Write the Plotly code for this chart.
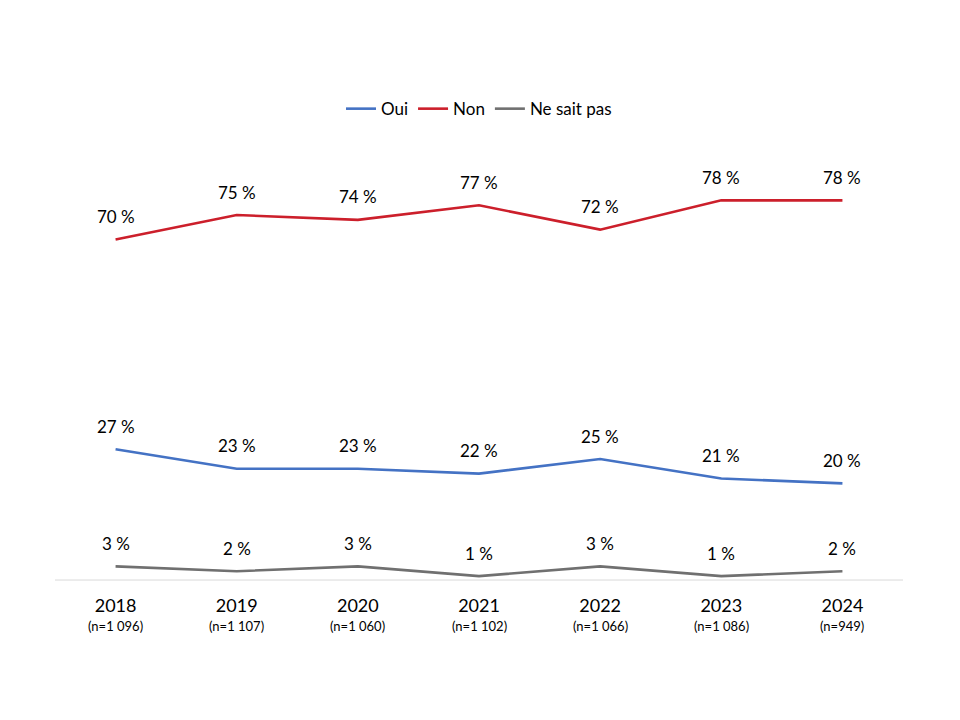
import plotly.graph_objects as go

years = ["2018", "2019", "2020", "2021", "2022", "2023", "2024"]
ns = ["(n=1 096)", "(n=1 107)", "(n=1 060)", "(n=1 102)", "(n=1 066)", "(n=1 086)", "(n=949)"]
oui = [27, 23, 23, 22, 25, 21, 20]
non = [70, 75, 74, 77, 72, 78, 78]
nsp = [3, 2, 3, 1, 3, 1, 2]

series = [("Oui", oui, "#4472C4"), ("Non", non, "#CC1F2B"), ("Ne sait pas", nsp, "#707070")]

FONT = "Lato, 'Open Sans', sans-serif"
fig = go.Figure()
annotations = []
for name, vals, col in series:
    fig.add_trace(go.Scatter(x=years, y=vals, name=name, mode="lines",
                             line=dict(color=col, width=2.6)))
    for i, v in enumerate(vals):
        annotations.append(dict(x=i, y=v, text=f"{v} %", showarrow=False,
                                yshift=23, font=dict(size=17, color="#000000", family=FONT)))

for i, n in enumerate(ns):
    annotations.append(dict(x=i, y=0, text=n, showarrow=False, yshift=-45,
                            font=dict(size=13, color="#000000", family=FONT)))

fig.update_layout(
    width=960, height=720,
    margin=dict(l=55, r=57, t=93, b=139),
    plot_bgcolor="white", paper_bgcolor="white",
    font=dict(family=FONT, size=17, color="#000000"),
    showlegend=True,
    legend=dict(orientation="h", x=0.5, xanchor="center", y=0.967, yanchor="middle",
                font=dict(size=17), itemwidth=30, tracegroupgap=0),
    annotations=annotations,
    xaxis=dict(type="category", categoryorder="array", categoryarray=years,
               range=[-0.5, 6.5], tickmode="array", tickvals=years, ticktext=years,
               showgrid=False, showline=False, ticks="", zeroline=False,
               ticklabelstandoff=12, tickfont=dict(size=18)),
    yaxis=dict(range=[0, 100], visible=False, showgrid=False, zeroline=False),
    shapes=[dict(type="line", xref="paper", yref="y", x0=0, x1=1, y0=0.2, y1=0.2,
                 line=dict(color="#D9D9D9", width=1))],
)
fig.write_html("out.html")
